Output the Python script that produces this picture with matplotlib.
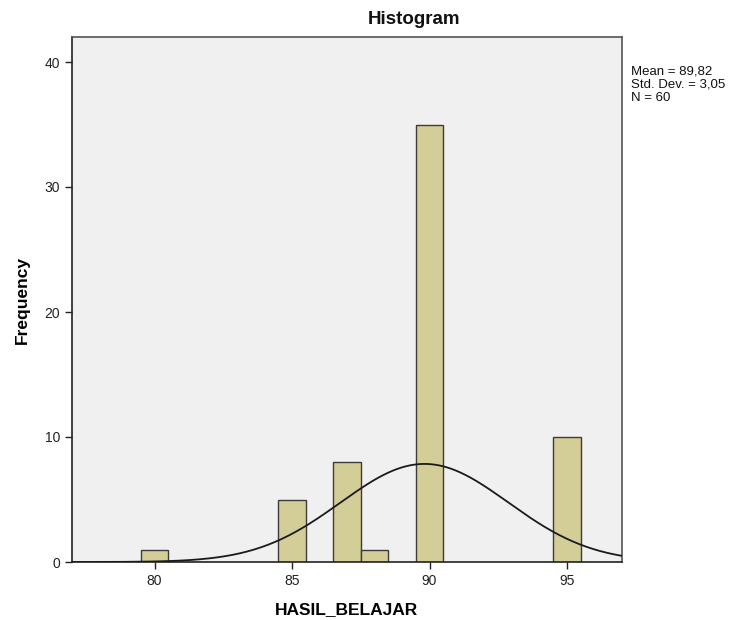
import numpy as np
import matplotlib.pyplot as plt

plt.rcParams['font.family'] = ['Liberation Sans', 'DejaVu Sans']

# Nilai HASIL_BELAJAR dan frekuensinya (dibaca dari histogram)
scores = [80, 85, 87, 88, 90, 95]
counts = [1, 5, 8, 1, 35, 10]

values = np.repeat(scores, counts)
n = len(values)
mean = values.mean()
sd = values.std(ddof=1)

fig = plt.figure(figsize=(7.36, 6.2), dpi=100)
ax = fig.add_axes([72 / 736, 1 - 562 / 620, 550 / 736, 525 / 620])
ax.set_facecolor('#f0f0f0')

ax.bar(scores, counts, width=1.0, color='#d3ce97', edgecolor='#3c3c3c', linewidth=1.0, zorder=2)

# Kurva normal dengan skala frekuensi (lebar bin = 1)
xs = np.linspace(77, 97, 400)
ys = n * 1.0 / (sd * np.sqrt(2 * np.pi)) * np.exp(-0.5 * ((xs - mean) / sd) ** 2)
ax.plot(xs, ys, color='#1a1a1a', linewidth=1.3, zorder=3)

ax.set_xlim(77, 97)
ax.set_ylim(0, 42)
ax.set_xticks([80, 85, 90, 95])
ax.set_yticks([0, 10, 20, 30, 40])
ax.tick_params(axis='both', direction='out', length=5, width=1, color='#222222',
               labelsize=10, labelcolor='#222222')
for side in ['left', 'bottom']:
    ax.spines[side].set_color('#222222')
    ax.spines[side].set_linewidth(1.2)
for side in ['top', 'right']:
    ax.spines[side].set_color('#555555')
    ax.spines[side].set_linewidth(1.2)

ax.set_xlabel('HASIL_BELAJAR', fontsize=12.5, fontweight='bold', labelpad=14)
ax.set_ylabel('Frequency', fontsize=12.5, fontweight='bold', labelpad=14)
ax.xaxis.set_label_coords(0.5, -(610 - 562) / 525)
ax.yaxis.set_label_coords(-(72 - 22) / 550, 0.5)
ax.xaxis.label.set_va('center')
ax.yaxis.label.set_va('center')

fig.text(414 / 736, 1 - 20 / 620, 'Histogram', ha='center', va='center',
         fontsize=13.5, fontweight='bold', color='#111111')

mean_s = ('%.2f' % mean).replace('.', ',')
sd_s = ('%.2f' % sd).replace('.', ',')
stats_txt = 'Mean = %s\nStd. Dev. = %s\nN = %d' % (mean_s, sd_s, n)
fig.text(631 / 736, 1 - 65 / 620, stats_txt, ha='left', va='top', fontsize=9.5,
         linespacing=1.15, color='#111111')

fig.savefig('out.png', dpi=100)
